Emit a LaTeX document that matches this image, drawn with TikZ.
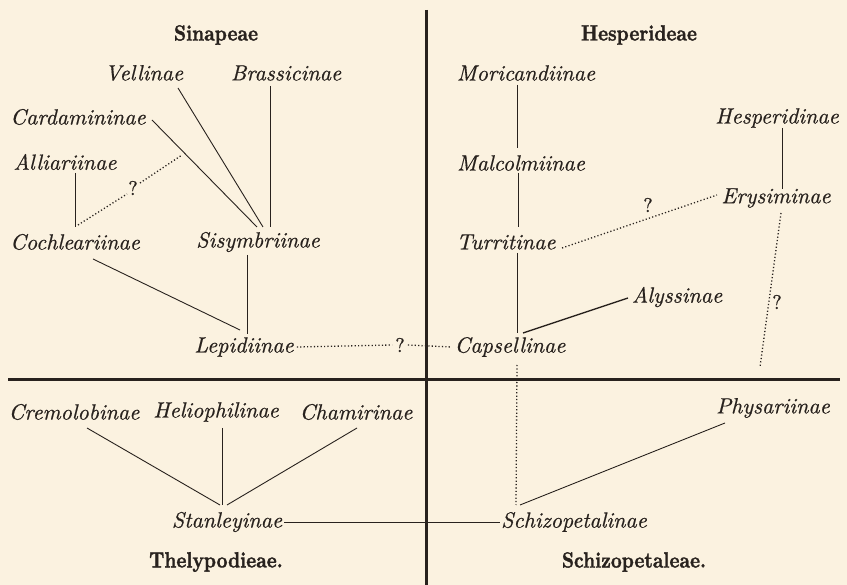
\documentclass[tikz,border=0pt]{standalone}
\usepackage{fontspec}
\newfontfamily\tribefont{lmroman10-bold.otf}[FakeBold=1.6]
\newfontfamily\taxonfont{lmroman10-italic.otf}[FakeBold=0.6]
\newfontfamily\qfont{lmroman10-regular.otf}[FakeBold=0.8]
\usetikzlibrary{calc}
\definecolor{paper}{RGB}{251,242,224}
\definecolor{ink}{RGB}{40,34,30}
\begin{document}
\begin{tikzpicture}[x=1pt,y=-1pt,
  taxon/.style={font=\taxonfont\fontsize{22}{24}\selectfont, text=ink, inner sep=0pt},
  tribe/.style={font=\tribefont\fontsize{22}{24}\selectfont, text=ink, inner sep=0pt, xscale=0.86, transform shape},
  qmark/.style={font=\qfont\fontsize{20}{22}\selectfont, text=ink, inner sep=0pt},
  link/.style={draw=ink, line width=0.9pt},
  unsure/.style={draw=ink, line width=1.3pt, dash pattern=on 1.2pt off 2.2pt},
  divider/.style={draw=ink, line width=3pt}]
\fill[paper] (0,0) rectangle (847,585);
\useasboundingbox (0,0) rectangle (847,585);

% tribes
\node[tribe] (sinap) at (216,35) {Sinapeae};
\node[tribe] (hesperid) at (639,35) {Hesperideae};
\node[tribe] (thely) at (216,562) {Thelypodieae.};
\node[tribe] (schizoT) at (634,562) {Schizopetaleae.};

% Sinapeae
\node[taxon] (vell) at (144,73) {Vellinae};
\node[taxon] (brass) at (286,73) {Brassicinae};
\node[taxon] (card) at (78,117) {Cardamininae};
\node[taxon] (alli) at (65,162) {Alliariinae};
\node[taxon] (coch) at (75,242) {Cochleariinae};
\node[taxon] (sis) at (258,242) {Sisymbriinae};
\node[taxon] (lep) at (244,347) {Lepidiinae};
\node[qmark] (q1) at (133,188) {?};
\node[qmark] (q2) at (400,345) {?};

% Hesperideae
\node[taxon] (mori) at (526,73) {Moricandiinae};
\node[taxon] (mal) at (521,163) {Malcolmiinae};
\node[taxon] (hesp) at (777,118) {Hesperidinae};
\node[taxon] (ery) at (776,198) {Erysiminae};
\node[taxon] (turr) at (506,242) {Turritinae};
\node[taxon] (alys) at (677,297) {Alyssinae};
\node[taxon] (caps) at (510,347) {Capsellinae};
\node[qmark] (q3) at (648,205) {?};
\node[qmark] (q4) at (777,302) {?};
\coordinate (eryend) at (760,367);

% Thelypodieae
\node[taxon] (crem) at (74,412) {Cremolobinae};
\node[taxon] (helio) at (216,412) {Heliophilinae};
\node[taxon] (cham) at (356,412) {Chamirinae};
\node[taxon] (stan) at (227,522) {Stanleyinae};

% Schizopetaleae
\node[taxon] (phys) at (773,408) {Physariinae};
\node[taxon] (schiz) at (574,522) {Schizopetalinae};

% dividers
\draw[divider] (426,10) -- (426,585);
\draw[divider] (8,380) -- (840,380);

% Sinapeae links
\draw[link] ([shift={(34,15)}]vell.center) -- ([shift={(5,-15)}]sis.center);
\draw[link] ([shift={(74,3)}]card.center) -- ([shift={(-1,-15)}]sis.center);
\draw[link] ([shift={(-16,13)}]brass.center) -- ([shift={(12,-15)}]sis.center);
\draw[link] ([shift={(10,11)}]alli.center) -- ([shift={(0,-15)}]coch.center);
\draw[unsure] ([shift={(3,-17)}]coch.center) -- ([shift={(-6,6)}]q1.center);
\draw[unsure] ([shift={(7,-5)}]q1.center) -- ([shift={(49,-33)}]q1.center);
\draw[link] ([shift={(18,17)}]coch.center) -- ([shift={(-4,-17)}]lep.center);
\draw[link] ([shift={(-11,13)}]sis.center) -- ([shift={(3,-13)}]lep.center);
\draw[unsure] ([xshift=3pt]lep.east) -- ([xshift=-3pt]q2.west);
\draw[unsure] ([xshift=3pt]q2.east) -- ([xshift=-3pt]caps.west);

% Hesperideae links
\draw[link] ([shift={(-9,12)}]mori.center) -- ([shift={(-4,-15)}]mal.center);
\draw[link] ([shift={(-3,10)}]mal.center) -- ([shift={(12,-15)}]turr.center);
\draw[link] ([shift={(11,11)}]turr.center) -- ([shift={(7,-14)}]caps.center);
\draw[link] ([shift={(5,10)}]hesp.center) -- ([shift={(6,-9)}]ery.center);
\draw[unsure] ([shift={(56,6)}]turr.center) -- ([shift={(-59,-3)}]ery.center);
\draw[unsure] ([shift={(5,15)}]ery.center) -- (eryend);
\draw[link, line width=1.4pt] ([shift={(-49,1)}]alys.center) -- ([shift={(13,-14)}]caps.center);
\draw[unsure] ([shift={(7,18)}]caps.center) -- ([shift={(-58,-17)}]schiz.center);

% Thelypodieae links
\draw[link] ([shift={(13,16)}]crem.center) -- ([shift={(-7,-17)}]stan.center);
\draw[link] ([shift={(6,16)}]helio.center) -- ([shift={(-5,-17)}]stan.center);
\draw[link] ([shift={(1,16)}]cham.center) -- ([shift={(0,-17)}]stan.center);
\draw[link] ([xshift=2pt]stan.east) -- ([xshift=-1pt]schiz.west);

% Schizopetaleae link
\draw[link] ([shift={(-48,15)}]phys.center) -- ([shift={(-54,-17)}]schiz.center);
\end{tikzpicture}
\end{document}
